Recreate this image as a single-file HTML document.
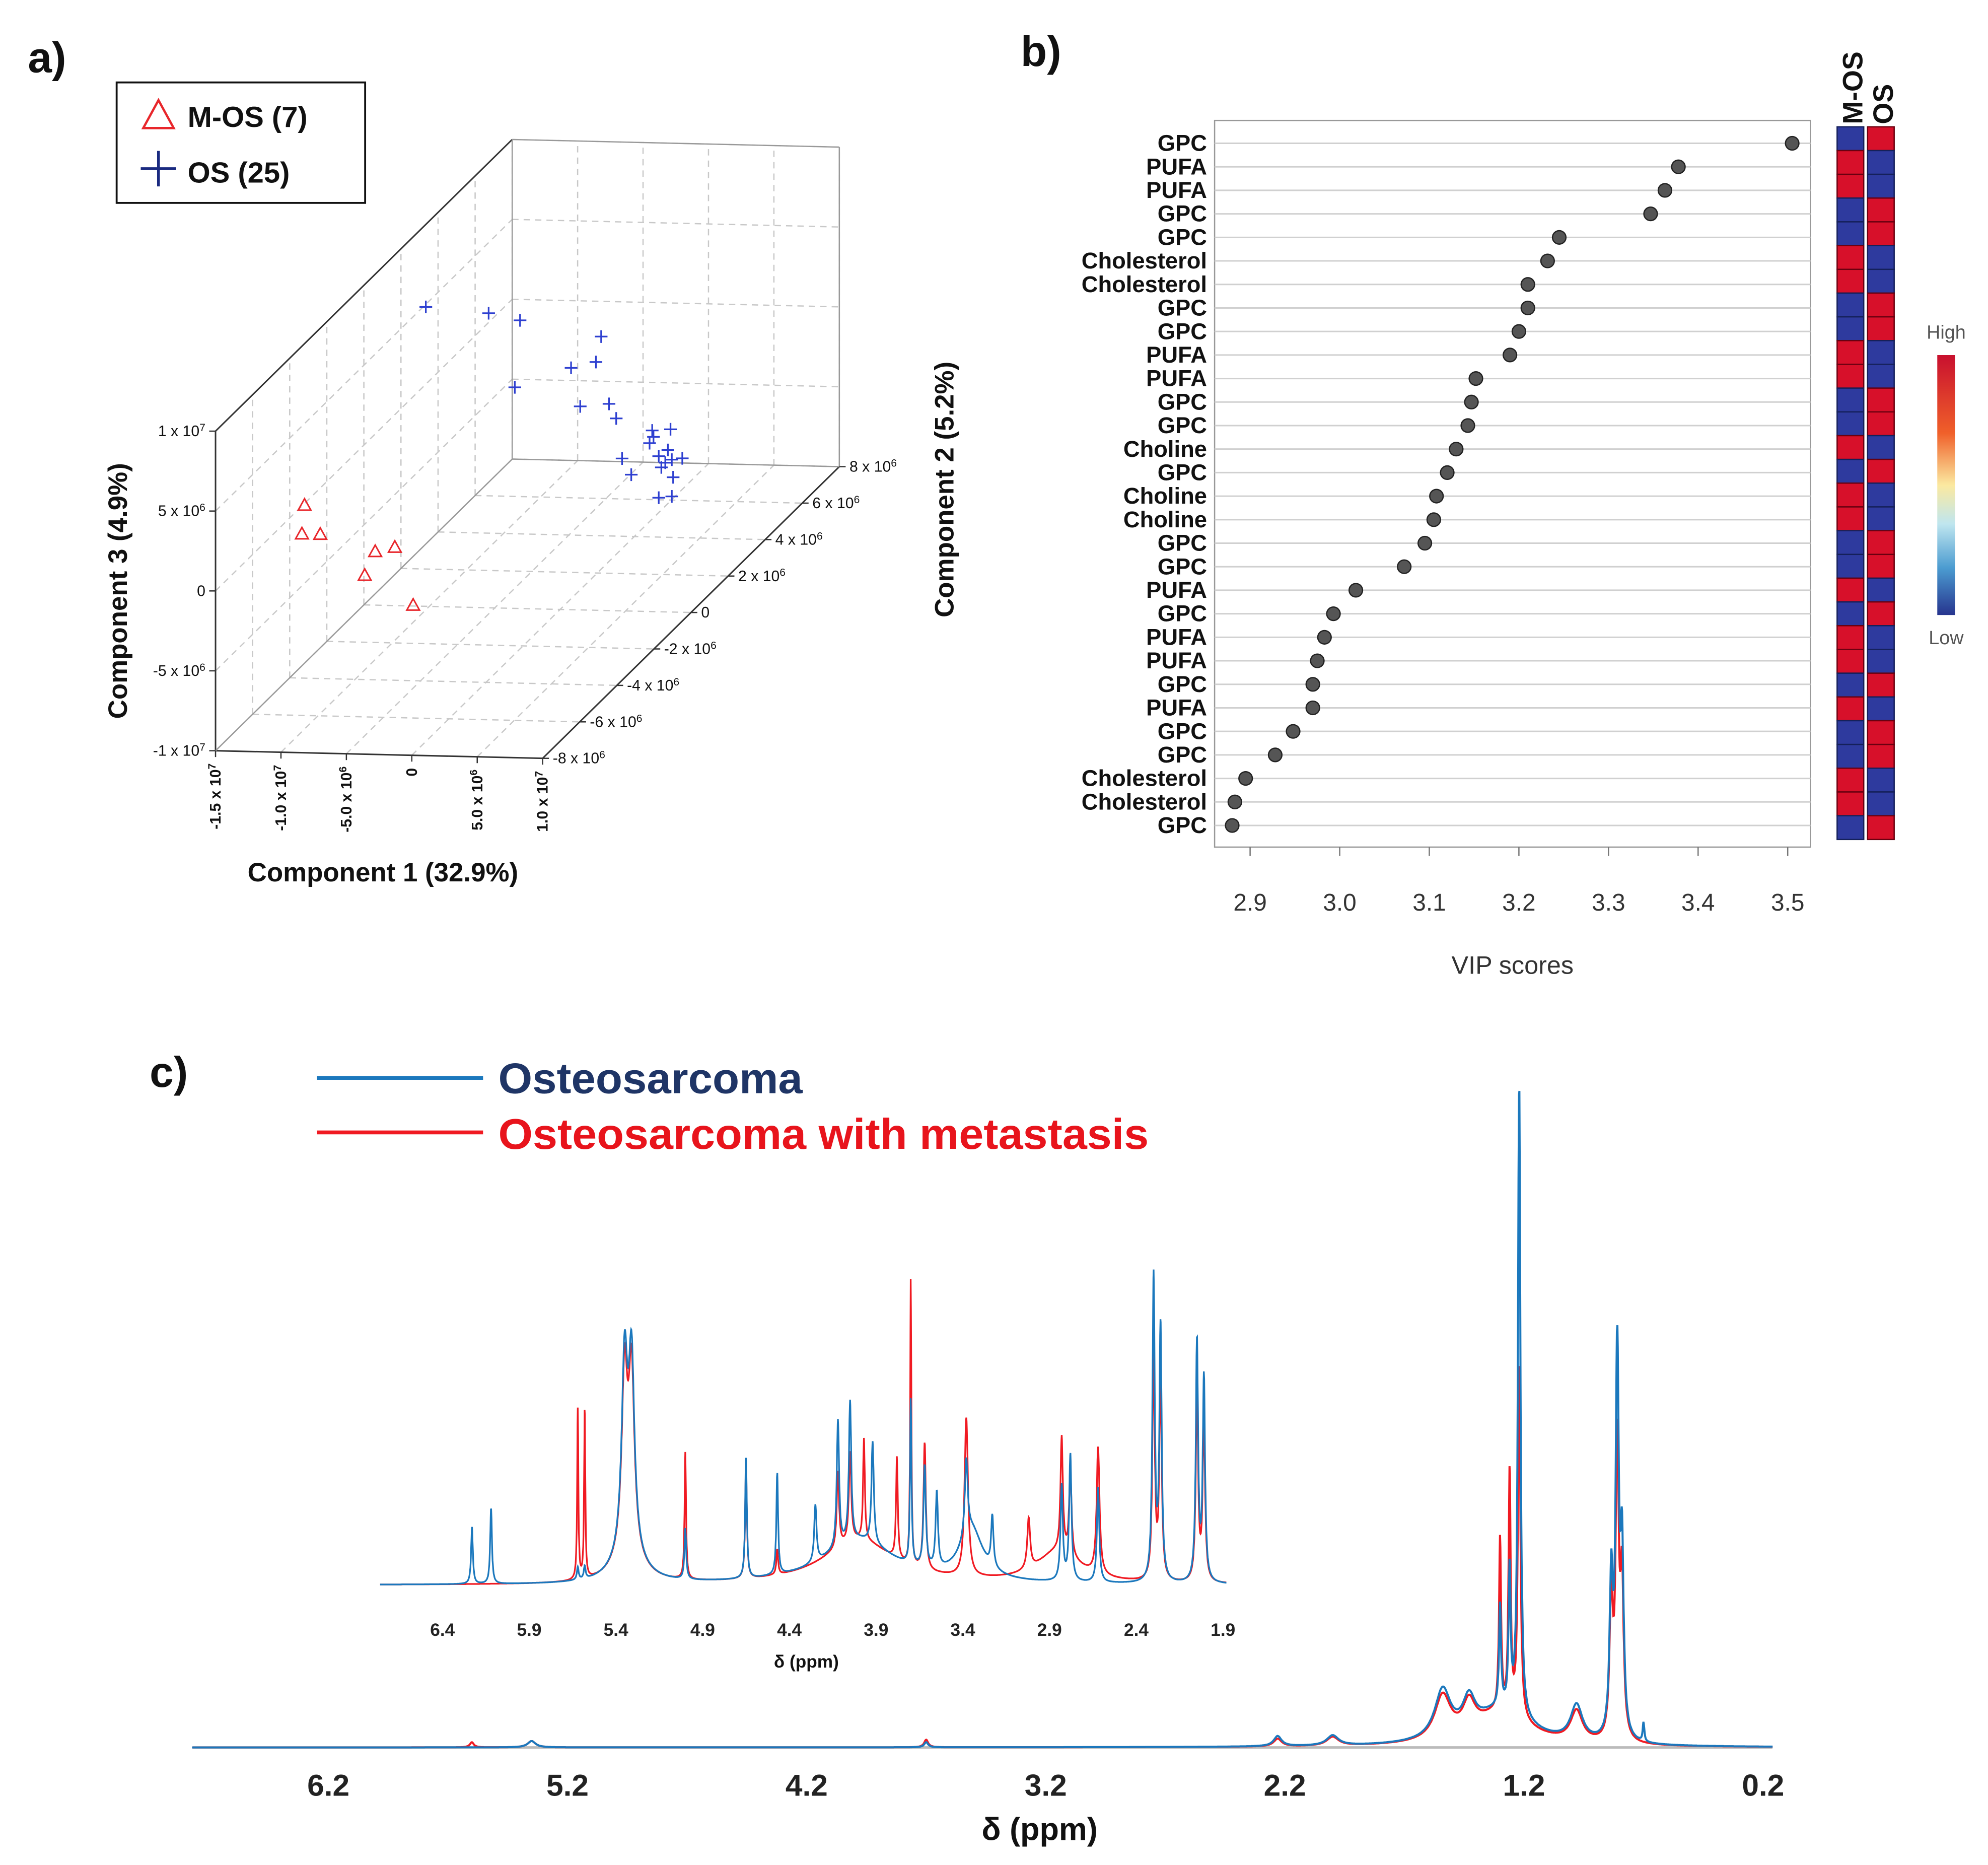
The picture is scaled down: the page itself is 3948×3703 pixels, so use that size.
<!DOCTYPE html>
<html><head><meta charset="utf-8"><style>
html,body{margin:0;padding:0;background:#fff;}
svg{display:block;font-family:"Liberation Sans",sans-serif;}
</style></head><body>
<svg id="fig" xmlns="http://www.w3.org/2000/svg" width="3948" height="3703" viewBox="0 0 1568 1470.7">
<rect width="1568" height="1470.7" fill="#fff"/>
<g id="pa"></g>
<g id="pb"></g>
<g id="pc"></g>
</svg>
<script>
// ---------- Panel A data (units: 1e6) ----------
const osC1=[-14.8,-10.0,-7.6,-1.4,-1.8,-3.7,-8.0,-3.0,-0.8,-0.25,2.5,3.9,2.3,0.2,3.0,4.0,4.8,3.5,0.9,4.1,3.0,4.0,2.6,3.7,3.2];
const osC2=[3.2,3.2,3.2,3.2,3.2,3.2,3.2,3.2,3.2,3.2,3.2,3.2,3.2,3.2,3.2,3.2,3.2,3.2,3.2,3.2,3.2,3.2,3.2,3.2,3.2];
const osC3=[5.0,4.7,4.3,3.4,1.8,1.4,0.1,-1.0,-0.8,-1.7,-2.4,-2.3,-3.2,-4.2,-4.0,-4.2,-4.1,-4.4,-5.2,-5.3,-6.6,-6.5,-2.8,-3.6,-4.7];
const mosC1=[-15.0,-15.2,-13.8,-9.6,-8.1,-10.4,-6.7];
const mosC2=[-3.2,-3.2,-3.2,-3.2,-3.2,-3.2,-3.2];
const mosC3=[-0.1,-1.9,-1.9,-2.9,-2.6,-4.4,-6.2];
const c1Ticks=[-15,-10,-5,0,5,10];
const c1Labels=["-1.5 x 10^7","-1.0 x 10^7","-5.0 x 10^6","0","5.0 x 10^6","1.0 x 10^7"];
const c2Ticks=[-8,-6,-4,-2,0,2,4,6,8];
const c2Labels=["-8 x 10^6","-6 x 10^6","-4 x 10^6","-2 x 10^6","0","2 x 10^6","4 x 10^6","6 x 10^6","8 x 10^6"];
const c3Ticks=[-10,-5,0,5,10];
const c3Labels=["-1 x 10^7","-5 x 10^6","0","5 x 10^6","1 x 10^7"];
// ---------- Panel B data ----------
const vipLabels=["GPC","PUFA","PUFA","GPC","GPC","Cholesterol","Cholesterol","GPC","GPC","PUFA","PUFA","GPC","GPC","Choline","GPC","Choline","Choline","GPC","GPC","PUFA","GPC","PUFA","PUFA","GPC","PUFA","GPC","GPC","Cholesterol","Cholesterol","GPC"];
const vipValues=[3.505,3.378,3.363,3.347,3.245,3.232,3.21,3.21,3.2,3.19,3.152,3.147,3.143,3.13,3.12,3.108,3.105,3.095,3.072,3.018,2.993,2.983,2.975,2.97,2.97,2.948,2.928,2.895,2.883,2.88];
const vipTicks=[2.9,3.0,3.1,3.2,3.3,3.4,3.5];
const heatMOS=[0,1,1,0,0,1,1,0,0,1,1,0,0,1,0,1,1,0,0,1,0,1,1,0,1,0,0,1,1,0];
const heatOS=[1,0,0,1,1,0,0,1,1,0,0,1,1,0,1,0,0,1,1,0,1,0,0,1,0,1,1,0,0,1];
// ---------- Panel C data: peaks [ppm, height, width] ----------
const mainBluePeaks=[[1.22,500,0.006],[1.26,110,0.005],[1.30,80,0.005],[0.81,300,0.008],[0.835,120,0.008],[0.79,140,0.008],[1.54,38,0.04],[1.43,24,0.03],[0.98,28,0.03],[1.3,28,0.15],[2.0,8,0.03],[0.7,15,0.004],[2.23,8,0.02],[5.35,5,0.02],[3.7,4,0.01]];
const mainRedPeaks=[[1.22,280,0.006],[1.26,190,0.005],[1.30,135,0.005],[0.81,230,0.008],[0.835,110,0.008],[0.79,120,0.008],[1.54,34,0.04],[1.43,22,0.03],[0.98,24,0.03],[1.3,26,0.15],[2.0,7,0.03],[2.23,6,0.02],[5.35,5,0.02],[3.7,6,0.01],[5.6,4,0.01]];
const insetBluePeaks=[[6.23,45,0.006],[6.12,60,0.006],[5.62,10,0.006],[5.58,10,0.006],[5.35,150,0.02],[5.31,150,0.02],[5.0,40,0.006],[4.65,95,0.006],[4.47,80,0.006],[4.25,45,0.008],[4.12,100,0.008],[4.05,110,0.008],[3.92,80,0.008],[3.7,130,0.005],[3.62,80,0.008],[3.55,60,0.008],[3.38,60,0.01],[3.23,40,0.008],[2.83,75,0.008],[2.78,100,0.008],[2.62,75,0.008],[2.3,240,0.008],[2.26,200,0.008],[2.05,190,0.008],[2.01,160,0.008],[4.0,35,0.25],[3.35,40,0.08],[5.33,20,0.1]];
const insetRedPeaks=[[5.62,135,0.004],[5.58,135,0.004],[5.35,140,0.02],[5.31,140,0.02],[5.0,100,0.005],[4.65,90,0.006],[4.47,20,0.006],[4.12,60,0.008],[4.05,70,0.008],[3.97,80,0.006],[3.78,80,0.006],[3.7,225,0.004],[3.62,100,0.008],[3.38,125,0.012],[3.02,40,0.01],[2.83,90,0.008],[2.78,70,0.008],[2.62,100,0.01],[2.3,180,0.008],[2.26,160,0.008],[2.05,150,0.008],[2.01,130,0.008],[4.0,35,0.25],[2.85,25,0.15],[5.33,20,0.1]];
const mainTicks=[6.2,5.2,4.2,3.2,2.2,1.2,0.2];
const insetTicks=[6.4,5.9,5.4,4.9,4.4,3.9,3.4,2.9,2.4,1.9];

const NS="http://www.w3.org/2000/svg";
function el(parent,tag,attrs,text){const e=document.createElementNS(NS,tag);for(const k in attrs)e.setAttribute(k,attrs[k]);if(text!==undefined)e.textContent=text;parent.appendChild(e);return e;}
function sup(parent,x,y,label,attrs){
  const t=el(parent,'text',Object.assign({x:x,y:y},attrs));
  const p=label.split('^');t.appendChild(document.createTextNode(p[0]));
  if(p[1]){const s=document.createElementNS(NS,'tspan');s.setAttribute('dy','-4');s.setAttribute('font-size','0.7em');s.textContent=p[1];t.appendChild(s);}
  return t;}

// ================= Panel A =================
const A=document.getElementById('pa');
const F=[170,592];
function proj(c1,c2,c3){const u1=(c1+15)/25,u2=(c2+8)/16,u3=(c3+10)/20;return [F[0]+258*u1+234*u2, F[1]+6*u1-230*u2-252*u3];}
function line3(a,b,st){const p=proj(...a),q=proj(...b);return el(A,'line',Object.assign({x1:p[0],y1:p[1],x2:q[0],y2:q[1]},st));}
const dash={stroke:'#c8c8c8','stroke-width':1,'stroke-dasharray':'5,4'};
c1Ticks.forEach(v=>{const l=line3([v,8,-10],[v,8,10],dash);});
c3Ticks.forEach(v=>{const l=line3([-15,8,v],[10,8,v],dash);});
c2Ticks.forEach(v=>{const l=line3([-15,v,-10],[-15,v,10],dash);});
c3Ticks.forEach(v=>{const l=line3([-15,-8,v],[-15,8,v],dash);});
c1Ticks.forEach(v=>{const l=line3([v,-8,-10],[v,8,-10],dash);});
c2Ticks.forEach(v=>{const l=line3([-15,v,-10],[10,v,-10],dash);});
const solid={stroke:'#333','stroke-width':1.2};
[[[-15,-8,-10],[10,-8,-10]],[[10,-8,-10],[10,8,-10]],[[-15,-8,-10],[-15,-8,10]],[[-15,-8,10],[-15,8,10]],[[-15,8,10],[10,8,10]],[[10,8,10],[10,8,-10]],[[-15,8,-10],[-15,8,10]],[[-15,8,-10],[10,8,-10]],[[-15,-8,-10],[-15,8,-10]]].forEach(e=>{
  const l=line3(e[0],e[1],(e[0][1]==8&&e[1][1]==8)||(e[0][0]==-15&&e[1][0]==-15&&e[0][2]==-10&&e[1][2]==-10)?{stroke:'#999','stroke-width':1}:solid);
  
  });
c3Ticks.forEach((v,i)=>{const p=proj(-15,-8,v);el(A,'line',{x1:p[0]-5,y1:p[1],x2:p[0],y2:p[1],stroke:'#333'});
  const t=sup(A,p[0]-8,p[1]+4,c3Labels[i],{'font-size':12,'text-anchor':'end',fill:'#111'});
  });
c2Ticks.forEach((v,i)=>{const p=proj(10,v,-10);el(A,'line',{x1:p[0],y1:p[1],x2:p[0]+5,y2:p[1],stroke:'#333'});
  const t=sup(A,p[0]+8,p[1]+4,c2Labels[i],{'font-size':12,fill:'#111'});
  });
c1Ticks.forEach((v,i)=>{const p=proj(v,-8,-10);el(A,'line',{x1:p[0],y1:p[1],x2:p[0],y2:p[1]+5,stroke:'#333'});
  const t=sup(A,0,0,c1Labels[i],{'font-size':12,fill:'#111','text-anchor':'end',transform:`translate(${p[0]+4},${p[1]+10}) rotate(-90)`,'font-weight':'bold'});
  });
osC1.forEach((v,i)=>{const p=proj(v,osC2[i],osC3[i]);const g=el(A,'path',{d:`M${p[0]-5},${p[1]}h10M${p[0]},${p[1]-5}v10`,stroke:'#2d3fd0','stroke-width':1.3});
  });
mosC1.forEach((v,i)=>{const p=proj(v,mosC2[i],mosC3[i]);const g=el(A,'path',{d:`M${p[0]},${p[1]-5}L${p[0]+5},${p[1]+4}L${p[0]-5},${p[1]+4}Z`,fill:'none',stroke:'#e8262b','stroke-width':1.2});
  });
let t;
t=el(A,'text',{x:302,y:695,'font-size':21,'font-weight':'bold','text-anchor':'middle',fill:'#111'},'Component  1 (32.9%)');
t=el(A,'text',{transform:'translate(100,466) rotate(-90)','font-size':21,'font-weight':'bold','text-anchor':'middle',fill:'#111'},'Component  3 (4.9%)');
t=el(A,'text',{transform:'translate(752,386) rotate(-90)','font-size':21,'font-weight':'bold','text-anchor':'middle',fill:'#111'},'Component  2 (5.2%)');
const lg=el(A,'g',{});
el(lg,'rect',{x:92,y:65,width:196,height:95,fill:'#fff',stroke:'#111','stroke-width':1.5});
el(lg,'path',{d:'M125,79L137,101L113,101Z',fill:'none',stroke:'#e8262b','stroke-width':1.8});
el(lg,'text',{x:148,y:100,'font-size':23,'font-weight':'bold',fill:'#111'},'M-OS (7)');
el(lg,'path',{d:'M111,133h28M125,119v28',stroke:'#1a2a80','stroke-width':2.2});
el(lg,'text',{x:148,y:144,'font-size':23,'font-weight':'bold',fill:'#111'},'OS (25)');
t=el(A,'text',{x:22,y:57,'font-size':34,'font-weight':'bold',fill:'#111'},'a)');

// ================= Panel B =================
const B=document.getElementById('pb');
const bx=v=>986+(v-2.9)*706.7, by=i=>113+i*18.55;
el(B,'rect',{x:958,y:95,width:470,height:573,fill:'#fff',stroke:'#999','stroke-width':1});
vipValues.forEach((v,i)=>{
  const g=el(B,'line',{x1:958,y1:by(i),x2:1428,y2:by(i),stroke:'#d0d0d0','stroke-width':1.2});
  
  const c=el(B,'circle',{cx:bx(v),cy:by(i),r:5.3,fill:'#555',stroke:'#222','stroke-width':1});
  
  const l=el(B,'text',{x:952,y:by(i)+6,'font-size':18,'font-weight':'bold','text-anchor':'end',fill:'#111'},vipLabels[i]);
  });
vipTicks.forEach(v=>{el(B,'line',{x1:bx(v),y1:668,x2:bx(v),y2:675,stroke:'#777'});
  const l=el(B,'text',{x:bx(v),y:718,'font-size':19,'text-anchor':'middle',fill:'#333'},v.toFixed(1));
  });
t=el(B,'text',{x:1193,y:768,'font-size':20,'text-anchor':'middle',fill:'#333'},'VIP scores');
const rh=562/30;
function hcol(arr,x,name){arr.forEach((v,i)=>{const r=el(B,'rect',{x:x,y:100+i*rh,width:21,height:rh,fill:v?'#d7102a':'#2e3a9e',stroke:v?'#6a0010':'#15205a','stroke-width':1});
  });}
hcol(heatMOS,1449,'heatmap-cell-mos');hcol(heatOS,1473,'heatmap-cell-os');
t=el(B,'text',{transform:'translate(1469,98) rotate(-90)','font-size':22,'font-weight':'bold',fill:'#111'},'M-OS');
t=el(B,'text',{transform:'translate(1493,98) rotate(-90)','font-size':22,'font-weight':'bold',fill:'#111'},'OS');
const defs=el(document.getElementById('fig'),'defs',{});
const lgr=el(defs,'linearGradient',{id:'cb',x1:0,y1:0,x2:0,y2:1});
[['0','#c8102e'],['0.3','#f0602a'],['0.5','#fbe9a0'],['0.65','#bfe6ef'],['0.82','#4b9bd0'],['1','#27358f']].forEach(s=>el(lgr,'stop',{offset:s[0],'stop-color':s[1]}));
t=el(B,'rect',{x:1528,y:280,width:14,height:205,fill:'url(#cb)'});
el(B,'text',{x:1535,y:267,'font-size':15,'text-anchor':'middle',fill:'#555'},'High');
el(B,'text',{x:1535,y:508,'font-size':15,'text-anchor':'middle',fill:'#555'},'Low');
t=el(B,'text',{x:805,y:52,'font-size':34,'font-weight':'bold',fill:'#111'},'b)');

// ================= Panel C =================
const C=document.getElementById('pc');
function spec(peaks,ppm){let s=0;for(const p of peaks){const d=ppm-p[0];s+=p[1]*p[2]*p[2]/(d*d+p[2]*p[2]);}return s;}
function specPath(peaks,xf,y0,p0,p1,n){let d='';for(let k=0;k<=n;k++){const ppm=p0+(p1-p0)*k/n;d+=(k?'L':'M')+xf(ppm).toFixed(1)+','+(y0-spec(peaks,ppm)).toFixed(1);}return d;}
const mx=p=>259+(6.2-p)*188.6, ix=p=>349+(6.4-p)*136.8;
el(C,'line',{x1:152,y1:1378,x2:1398,y2:1378,stroke:'#bbb','stroke-width':2});
t=el(C,'path',{d:specPath(mainRedPeaks,mx,1378,6.77,0.16,4000),fill:'none',stroke:'#f01a22','stroke-width':1.6});
t=el(C,'path',{d:specPath(mainBluePeaks,mx,1378,6.77,0.16,4000),fill:'none',stroke:'#1b78bd','stroke-width':1.6});
mainTicks.forEach(v=>{const l=el(C,'text',{x:mx(v),y:1416,'font-size':24,'font-weight':'bold','text-anchor':'middle',fill:'#222'},v.toFixed(1));});
t=el(C,'text',{x:820,y:1451,'font-size':25,'font-weight':'bold','text-anchor':'middle',fill:'#111'},'δ (ppm)');
t=el(C,'path',{d:specPath(insetRedPeaks,ix,1250,6.76,1.88,3000),fill:'none',stroke:'#f01a22','stroke-width':1.3});
t=el(C,'path',{d:specPath(insetBluePeaks,ix,1250,6.76,1.88,3000),fill:'none',stroke:'#1b78bd','stroke-width':1.3});
insetTicks.forEach(v=>{const l=el(C,'text',{x:ix(v),y:1290,'font-size':14,'font-weight':'bold','text-anchor':'middle',fill:'#222'},v.toFixed(1));});
t=el(C,'text',{x:636,y:1315,'font-size':14,'font-weight':'bold','text-anchor':'middle',fill:'#111'},'δ (ppm)');
const lc=el(C,'g',{});
el(lc,'line',{x1:250,y1:850,x2:381,y2:850,stroke:'#1b78bd','stroke-width':3});
el(lc,'text',{x:393,y:862,'font-size':34,'font-weight':'bold',fill:'#1f3566',textLength:240,lengthAdjust:'spacingAndGlyphs'},'Osteosarcoma');
el(lc,'line',{x1:250,y1:893,x2:381,y2:893,stroke:'#f01a22','stroke-width':3});
el(lc,'text',{x:393,y:906,'font-size':34,'font-weight':'bold',fill:'#e8141c',textLength:513,lengthAdjust:'spacingAndGlyphs'},'Osteosarcoma with metastasis');
t=el(C,'text',{x:118,y:857,'font-size':34,'font-weight':'bold',fill:'#111'},'c)');
</script>
</body></html>
